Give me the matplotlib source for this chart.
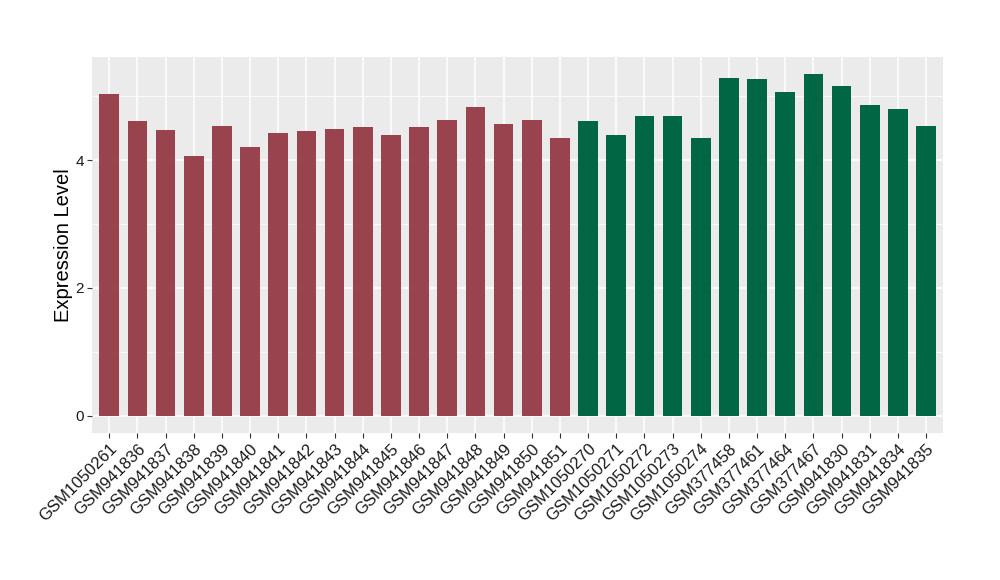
import matplotlib
matplotlib.use("Agg")
import matplotlib.pyplot as plt
import numpy as np

plt.rcParams['font.family'] = ['Liberation Sans', 'DejaVu Sans']

# samples and their expression values, two groups
group_a = ['GSM1050261', 'GSM941836', 'GSM941837', 'GSM941838', 'GSM941839',
           'GSM941840', 'GSM941841', 'GSM941842', 'GSM941843', 'GSM941844',
           'GSM941845', 'GSM941846', 'GSM941847', 'GSM941848', 'GSM941849',
           'GSM941850', 'GSM941851']
values_a = [5.04, 4.62, 4.47, 4.07, 4.53, 4.20, 4.42, 4.45, 4.48, 4.52,
            4.39, 4.52, 4.63, 4.83, 4.56, 4.63, 4.35]

group_b = ['GSM1050270', 'GSM1050271', 'GSM1050272', 'GSM1050273', 'GSM1050274',
           'GSM377458', 'GSM377461', 'GSM377464', 'GSM377467', 'GSM941830',
           'GSM941831', 'GSM941834', 'GSM941835']
values_b = [4.61, 4.39, 4.69, 4.69, 4.34, 5.29, 5.27, 5.07, 5.35, 5.16,
            4.87, 4.80, 4.54]

color_a = '#99434F'
color_b = '#006643'

labels = group_a + group_b
values = values_a + values_b
colors = [color_a] * len(group_a) + [color_b] * len(group_b)
x = np.arange(1, len(labels) + 1)

fig = plt.figure(figsize=(10, 5.8), dpi=100)
ax = fig.add_axes([0.0923, 0.254, 0.8507, 0.648])
ax.set_facecolor('#EBEBEB')

ax.bar(x, values, width=0.7, color=colors, zorder=3)

ymax = max(values)
pad = ymax * 0.05
ax.set_ylim(-pad, ymax + pad)
ax.set_xlim(0.4, len(labels) + 0.6)

ax.set_yticks([0, 2, 4])
ax.set_yticks([1, 3, 5], minor=True)
ax.set_xticks(x)
ax.set_xticklabels(labels, rotation=45, ha='right', rotation_mode='anchor')

ax.grid(True, which='major', color='white', linewidth=1.1, zorder=0)
ax.grid(True, which='minor', axis='y', color='white', linewidth=0.55, zorder=0)
ax.set_axisbelow(True)

for s in ax.spines.values():
    s.set_visible(False)

ax.tick_params(axis='both', which='major', length=3.5, width=0.8, color='#333333',
               labelcolor='#1a1a1a', labelsize=12, pad=2.5)
ax.tick_params(axis='y', which='minor', length=0)
ax.tick_params(axis='y', labelsize=11)

ax.set_ylabel('Expression Level', fontsize=14.5, color='black', labelpad=2)

fig.savefig('out.png', dpi=100)
